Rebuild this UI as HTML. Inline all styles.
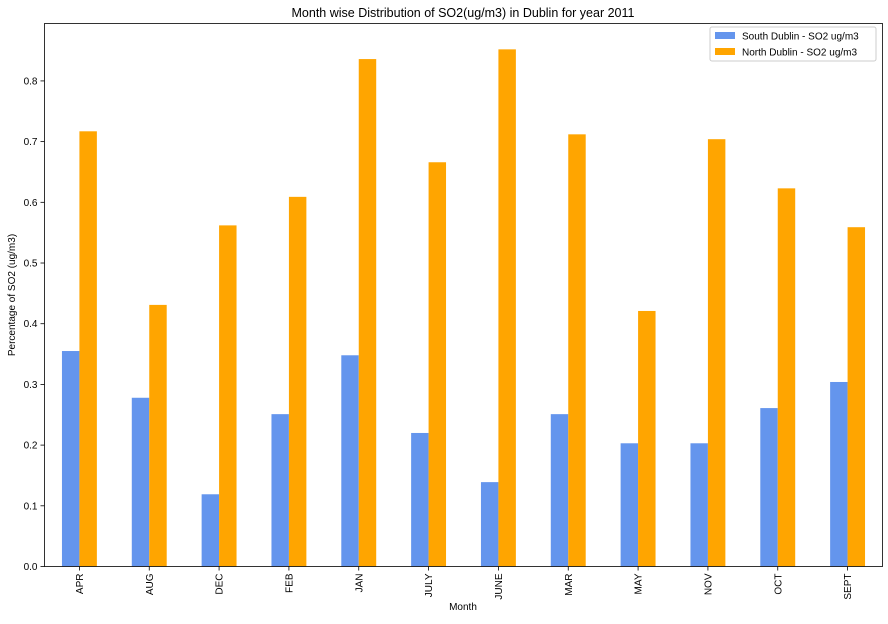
<!DOCTYPE html>
<html><head><meta charset="utf-8"><style>
body{margin:0;background:#fff;}
svg text{font-family:"Liberation Sans","DejaVu Sans",sans-serif;fill:#000;}
</style></head><body>
<svg id="chart" width="888" height="619" xmlns="http://www.w3.org/2000/svg">
<rect width="888" height="619" fill="#fff"/>
<text x="463" y="17" text-anchor="middle" font-size="12.5">Month wise Distribution of SO2(ug/m3) in Dublin for year 2011</text>
<g id="bars"></g>
<g id="axes"></g>
<text x="463" y="610" text-anchor="middle" font-size="10">Month</text>
<text transform="translate(15,295) rotate(-90)" text-anchor="middle" font-size="10">Percentage of SO2 (ug/m3)</text>
<g>
<rect x="710" y="27" width="166" height="34" fill="#fff" stroke="#ccc" rx="2"/>
<rect x="715" y="32" width="20" height="7" fill="#6495ed"/>
<text x="742" y="39.5" font-size="10">South Dublin - SO2 ug/m3</text>
<rect x="715" y="48" width="20" height="7" fill="#ffa500"/>
<text x="742" y="55.5" font-size="10">North Dublin - SO2 ug/m3</text>
</g>
</svg>
<script>
const categories=["APR","AUG","DEC","FEB","JAN","JULY","JUNE","MAR","MAY","NOV","OCT","SEPT"];
const southValues=[0.355,0.278,0.119,0.251,0.348,0.220,0.139,0.251,0.203,0.203,0.261,0.304];
const northValues=[0.717,0.431,0.562,0.609,0.836,0.666,0.852,0.712,0.421,0.704,0.623,0.559];
const yTicks=[0,0.1,0.2,0.3,0.4,0.5,0.6,0.7,0.8];
const yTickLabels=["0.0","0.1","0.2","0.3","0.4","0.5","0.6","0.7","0.8"];
const L=44.5,R=882.5,T=23.5,B=566.5,YMAX=0.8946;
const NS="http://www.w3.org/2000/svg";
const bw=(R-L)/categories.length;
function xC(i){return L+bw*(i+0.5);}
function y(v){return B-(B-T)*v/YMAX;}
function mk(t,a,p){const e=document.createElementNS(NS,t);for(const k in a)e.setAttribute(k,a[k]);p.appendChild(e);return e;}
const bars=document.getElementById('bars'),axes=document.getElementById('axes');
categories.forEach((c,i)=>{
 const w=bw*0.25;
 let r=mk('rect',{x:xC(i)-w,y:y(southValues[i]),width:w,height:B-y(southValues[i]),fill:'#6495ed'},bars);
 
 
 r=mk('rect',{x:xC(i),y:y(northValues[i]),width:w,height:B-y(northValues[i]),fill:'#ffa500'},bars);
 
 
 mk('line',{x1:xC(i),x2:xC(i),y1:B,y2:B+4,stroke:'#000','stroke-width':0.8},axes);
 const t=mk('text',{transform:`translate(${xC(i)+3.5},${B+7}) rotate(-90)`,'text-anchor':'end','font-size':10},axes);
 t.textContent=c;
 
 
});
yTicks.forEach((v,i)=>{
 mk('line',{x1:L-4,x2:L,y1:y(v),y2:y(v),stroke:'#000','stroke-width':0.8},axes);
 const t=mk('text',{x:L-7,y:y(v)+3.5,'text-anchor':'end','font-size':10},axes);
 t.textContent=yTickLabels[i];
 
 
});
const f=mk('rect',{x:L,y:T,width:R-L,height:B-T,fill:'none',stroke:'#000','stroke-width':0.8},axes);


</script>
</body></html>
